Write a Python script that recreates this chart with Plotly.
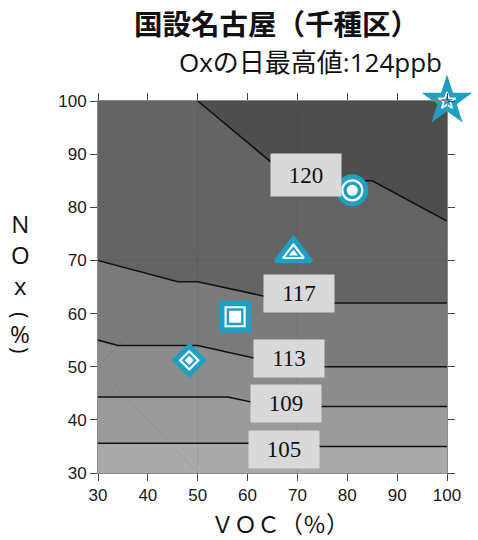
import plotly.graph_objects as go

# ---- contour data: Ox daily max (ppb) over VOC / NOx reduction (%) ----
levels = [105, 109, 113, 117, 120]

line_105_x = [30, 60, 75, 100]
line_105_y = [35.6, 35.6, 35.0, 35.0]
line_109_x = [30, 56, 65, 100]
line_109_y = [44.3, 44.3, 42.5, 42.5]
line_113_x = [30, 34, 50, 69, 100]
line_113_y = [55.0, 54.0, 54.0, 50.0, 50.0]
line_117_x = [30, 46, 50, 69.5, 100]
line_117_y = [70.0, 66.0, 66.0, 62.0, 62.0]
line_120_x = [50, 66, 70, 85, 100]
line_120_y = [100.0, 87.5, 85.0, 85.0, 77.4]

line_x = [line_105_x, line_109_x, line_113_x, line_117_x, line_120_x]
line_y = [line_105_y, line_109_y, line_113_y, line_117_y, line_120_y]

base_color = "#a9a9a9"
band_colors = ["#9b9b9b", "#8c8c8c", "#7b7b7b", "#646464", "#4e4e4e"]

# contour label positions (VOC %, NOx %)
label_x = [67.4, 67.8, 68.3, 70.4, 71.7]
label_y = [34.4, 43.1, 51.5, 63.8, 86.0]

# interpolation mesh edges (grid nodes of the simulated cases)
mesh_x0 = [50, 70, 30, 50, 70, 30, 30, 30]
mesh_y0 = [30, 30, 70, 100, 100, 100, 50, 50]
mesh_x1 = [50, 70, 100, 70, 100, 50, 50, 50]
mesh_y1 = [100, 100, 70, 70, 70, 70, 70, 30]

# reduction scenarios
pt_voc = [100, 81.0, 69.2, 57.5, 48.3]
pt_nox = [100, 83.2, 71.3, 59.4, 51.2]
pt_symbol = ["star", "circle", "triangle-up", "square", "diamond"]

title_text = "国設名古屋（千種区）"
subtitle_text = "Oxの日最高値:124ppb"
x_title = "ＶＯＣ（％）"
x_ticks = [30, 40, 50, 60, 70, 80, 90, 100]
y_ticks = [30, 40, 50, 60, 70, 80, 90, 100]

TEAL = "#1f9fc2"
JP_FONT = "Noto Sans CJK JP"
MIX_FONT = "Open Sans, Noto Sans CJK JP"

fig = go.Figure()

# filled bands: the region above each contour line, darker as level rises
for i in range(len(levels)):
    xs = list(line_x[i])
    ys = list(line_y[i])
    if xs[0] == 30:
        xs += [100, 30]
        ys += [100, 100]
    else:
        xs += [100]
        ys += [100]
    fig.add_trace(go.Scatter(
        x=xs, y=ys, mode="lines", fill="toself",
        fillcolor=band_colors[i], line=dict(width=0),
        hoverinfo="skip", showlegend=False))

# faint mesh edges
mx, my = [], []
for a, b, c, d in zip(mesh_x0, mesh_y0, mesh_x1, mesh_y1):
    mx += [a, c, None]
    my += [b, d, None]
fig.add_trace(go.Scatter(
    x=mx, y=my, mode="lines",
    line=dict(color="rgba(40,40,40,0.09)", width=1),
    hoverinfo="skip", showlegend=False))

# contour lines
for i in range(len(levels)):
    fig.add_trace(go.Scatter(
        x=line_x[i], y=line_y[i], mode="lines",
        line=dict(color="#111111", width=1.6),
        hoverinfo="skip", showlegend=False))

# contour labels
for lv, lx, ly in zip(levels, label_x, label_y):
    fig.add_annotation(
        x=lx, y=ly, xref="x", yref="y", text=str(lv), showarrow=False,
        font=dict(family="Liberation Serif", size=23, color="#111111"),
        bgcolor="#d9d9d9", width=68, height=40 if lv == 120 else 35,
        borderpad=1)

# scenario markers: teal body, white ring, white core
outer_size = {"star": 38, "circle": 32, "triangle-up": 31, "square": 27, "diamond": 23}
outer_line = {"star": 0, "circle": 0, "triangle-up": 4, "square": 5, "diamond": 4}
ring_size = {"star": 13, "circle": 20, "triangle-up": 18, "square": 19, "diamond": 14}
core_size = {"star": 0, "circle": 11, "triangle-up": 8, "square": 12, "diamond": 7}

for vx, vy, sym in zip(pt_voc, pt_nox, pt_symbol):
    fig.add_trace(go.Scatter(
        x=[vx], y=[vy], mode="markers", cliponaxis=False,
        marker=dict(symbol=sym, size=outer_size[sym], color=TEAL,
                    line=dict(color=TEAL, width=outer_line[sym])),
        hoverinfo="skip", showlegend=False))
    fig.add_trace(go.Scatter(
        x=[vx], y=[vy], mode="markers", cliponaxis=False,
        marker=dict(symbol=sym + "-open", size=ring_size[sym], color="white",
                    line=dict(color="white", width=2.2 if sym != "star" else 1.6)),
        hoverinfo="skip", showlegend=False))
    if core_size[sym]:
        fig.add_trace(go.Scatter(
            x=[vx], y=[vy], mode="markers", cliponaxis=False,
            marker=dict(symbol=sym, size=core_size[sym], color="white",
                        line=dict(width=0)),
            hoverinfo="skip", showlegend=False))

# pixel helpers for text placed around the plot area
L, R, T, B = 98, 447, 101, 473


def px_x(p):
    return (p - L) / (R - L)


def px_y(p):
    return (B - p) / (B - T)


fig.add_annotation(x=px_x(276), y=px_y(23), xref="paper", yref="paper",
                   text="<b>" + title_text + "</b>", showarrow=False,
                   font=dict(family=JP_FONT, size=28.5, color="#111111"),
                   xanchor="center", yanchor="middle")
fig.add_annotation(x=px_x(444), y=px_y(62.5), xref="paper", yref="paper",
                   text=subtitle_text, showarrow=False,
                   font=dict(family=MIX_FONT, size=26, color="#111111"),
                   xanchor="right", yanchor="middle")

# axis titles
fig.add_annotation(x=px_x(280), y=px_y(523), xref="paper", yref="paper",
                   text=x_title, showarrow=False,
                   font=dict(family=JP_FONT, size=23, color="#111111"),
                   xanchor="center", yanchor="middle")
fig.add_annotation(x=px_x(20), y=px_y(254), xref="paper", yref="paper",
                   text="N<br>O<br>x", showarrow=False,
                   font=dict(family="Open Sans", size=24, color="#111111"),
                   xanchor="center", yanchor="middle")
fig.add_annotation(x=px_x(21), y=px_y(315), xref="paper", yref="paper",
                   text="(", textangle=90, showarrow=False,
                   font=dict(family="Open Sans", size=22, color="#111111"),
                   xanchor="center", yanchor="middle")
fig.add_annotation(x=px_x(20), y=px_y(333), xref="paper", yref="paper",
                   text="%", showarrow=False,
                   font=dict(family="Open Sans", size=24, color="#111111"),
                   xanchor="center", yanchor="middle")
fig.add_annotation(x=px_x(21), y=px_y(350), xref="paper", yref="paper",
                   text=")", textangle=90, showarrow=False,
                   font=dict(family="Open Sans", size=22, color="#111111"),
                   xanchor="center", yanchor="middle")

axis_common = dict(
    showgrid=False, zeroline=False, showline=True, linecolor="#8a8a8a",
    linewidth=1, mirror="ticks", ticks="outside", ticklen=7, tickwidth=1,
    tickcolor="#444444",
    tickfont=dict(family="Liberation Sans", size=17, color="#1a1a1a"))

fig.update_xaxes(range=[30, 100], tickvals=x_ticks, **axis_common)
fig.update_yaxes(range=[30, 100], tickvals=y_ticks, **axis_common)

fig.update_layout(
    width=478, height=540, autosize=False,
    margin=dict(l=L, r=478 - R, t=T, b=540 - B),
    paper_bgcolor="white", plot_bgcolor=base_color,
    showlegend=False)

fig.write_html("out.html")
